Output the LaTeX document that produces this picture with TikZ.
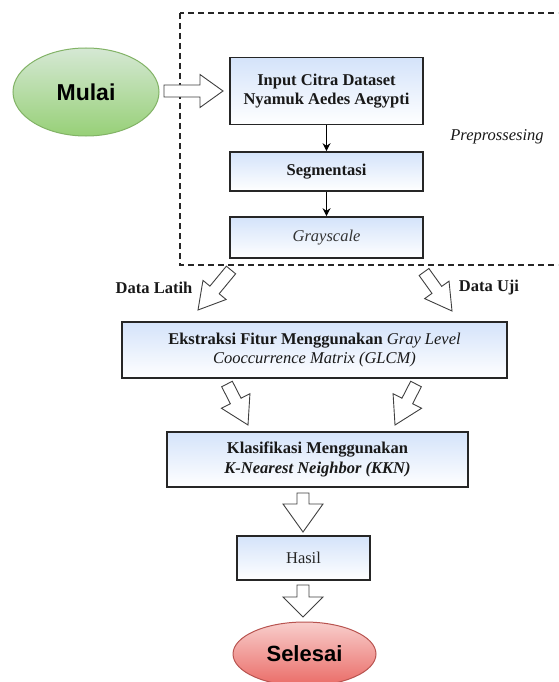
\documentclass[tikz,border=0pt]{standalone}
\usepackage{fontspec}
\setmainfont{Liberation Serif}
\newfontfamily\arialf{Liberation Sans}
\usetikzlibrary{shapes.geometric,calc,arrows.meta}
\definecolor{boxtop}{HTML}{D4E3FA}
\definecolor{grtop}{HTML}{D5E8D4}
\definecolor{grbot}{HTML}{97D077}
\definecolor{grline}{HTML}{82B366}
\definecolor{rdtop}{HTML}{F8CECC}
\definecolor{rdbot}{HTML}{EA6B66}
\definecolor{rdline}{HTML}{B85450}
\newcommand\blockarrow[5]{%
  \draw[barrow] ($(#1)!#3!90:(#2)$) -- ($(#2)!#5!(#1)!#3!-90:(#1)$) -- ($(#2)!#5!(#1)!#4!-90:(#1)$) -- (#2)
   -- ($(#2)!#5!(#1)!#4!90:(#1)$) -- ($(#2)!#5!(#1)!#3!90:(#1)$) -- ($(#1)!#3!-90:(#2)$) -- cycle;}
\tikzset{
  procbox/.style={rectangle, draw=black!85, line width=1.6pt, top color=boxtop, bottom color=white,
    align=center, inner sep=0pt, font=\fontsize{16.5}{19.5}\selectfont, text=black!90},
  barrow/.style={draw=black!75, fill=white, line width=0.9pt, line join=miter},
  thinarrow/.style={draw=black, line width=1pt, -{Stealth[length=8pt,width=8pt]}},
  lbl/.style={font=\fontsize{16.5}{19.5}\selectfont, text=black!90, inner sep=0pt}
}
\begin{document}
\begin{tikzpicture}[x=1pt,y=-1pt]
\clip (0,0) rectangle (558,682);
\fill[white] (0,0) rectangle (558,682);
% dashed preprocessing region
\draw[line width=1.5pt, dash pattern=on 6pt off 4pt, black!85] (180,13) rectangle (600,265);
% start / end
\node (mulai) [ellipse, draw=grline, line width=1pt, top color=grtop, bottom color=grbot,
  minimum width=146pt, minimum height=88pt, inner sep=0pt,
  font=\arialf\bfseries\fontsize{23}{26}\selectfont] at (86,92) {Mulai};
\node (selesai) [ellipse, draw=rdline, line width=1pt, top color=rdtop, bottom color=rdbot,
  minimum width=143pt, minimum height=64pt, inner sep=0pt,
  font=\arialf\bfseries\fontsize{22}{25}\selectfont] at (304.5,654) {Selesai};
% process boxes
\node (input) [procbox, minimum width=193pt, minimum height=67pt] at (326.5,91)
  {\bfseries Input Citra Dataset\\\bfseries Nyamuk Aedes Aegypti};
\node (seg) [procbox, minimum width=193pt, minimum height=39pt] at (326.5,171.5) {\bfseries Segmentasi};
\node (gray) [procbox, minimum width=193pt, minimum height=41pt, text=black!80] at (326.5,237.5) {\itshape Grayscale};
\node (prep) [lbl, font=\itshape\fontsize{16.5}{19.5}\selectfont] at (497,137) {Preprossesing};
\node (ekstr) [procbox, minimum width=385pt, minimum height=56pt] at (314.5,350)
  {\bfseries Ekstraksi Fitur Menggunakan \mdseries\itshape Gray Level\\\itshape Cooccurrence Matrix (GLCM)};
\node (klas) [procbox, minimum width=301pt, minimum height=55pt] at (317.5,459.5)
  {\bfseries Klasifikasi Menggunakan\\\bfseries\itshape K-Nearest Neighbor (KKN)};
\node (hasil) [procbox, minimum width=133pt, minimum height=44pt, text=black!85] at (303.5,558) {Hasil};
\node (latih) [lbl, font=\bfseries\fontsize{16.5}{19.5}\selectfont] at (154,288) {Data Latih};
\node (uji) [lbl, font=\bfseries\fontsize{16.5}{19.5}\selectfont] at (489,288) {Data Uji};
% thin arrows
\draw[thinarrow] (input) -- (seg);
\draw[thinarrow] (seg) -- (gray);
% block arrows
\coordinate (a1t) at (164,91);   \coordinate (a1h) at (223,91);
\coordinate (a2t) at (231,270);  \coordinate (a2h) at (198,310);
\coordinate (a3t) at (424,272);  \coordinate (a3h) at (452,311);
\coordinate (a4t) at (227,384);  \coordinate (a4h) at (248,425);
\coordinate (a5t) at (416,384);  \coordinate (a5h) at (395,425);
\coordinate (a6t) at (303,493);  \coordinate (a6h) at (303,532);
\coordinate (a7t) at (303,585);  \coordinate (a7h) at (303,617);
\blockarrow{a1t}{a1h}{6pt}{16.5pt}{23pt}
\blockarrow{a2t}{a2h}{6pt}{15pt}{26pt}
\blockarrow{a3t}{a3h}{6pt}{15pt}{26pt}
\blockarrow{a4t}{a4h}{6pt}{16pt}{27pt}
\blockarrow{a5t}{a5h}{6pt}{16pt}{27pt}
\blockarrow{a6t}{a6h}{6pt}{20pt}{28pt}
\blockarrow{a7t}{a7h}{6pt}{20pt}{20pt}
\end{tikzpicture}
\end{document}
